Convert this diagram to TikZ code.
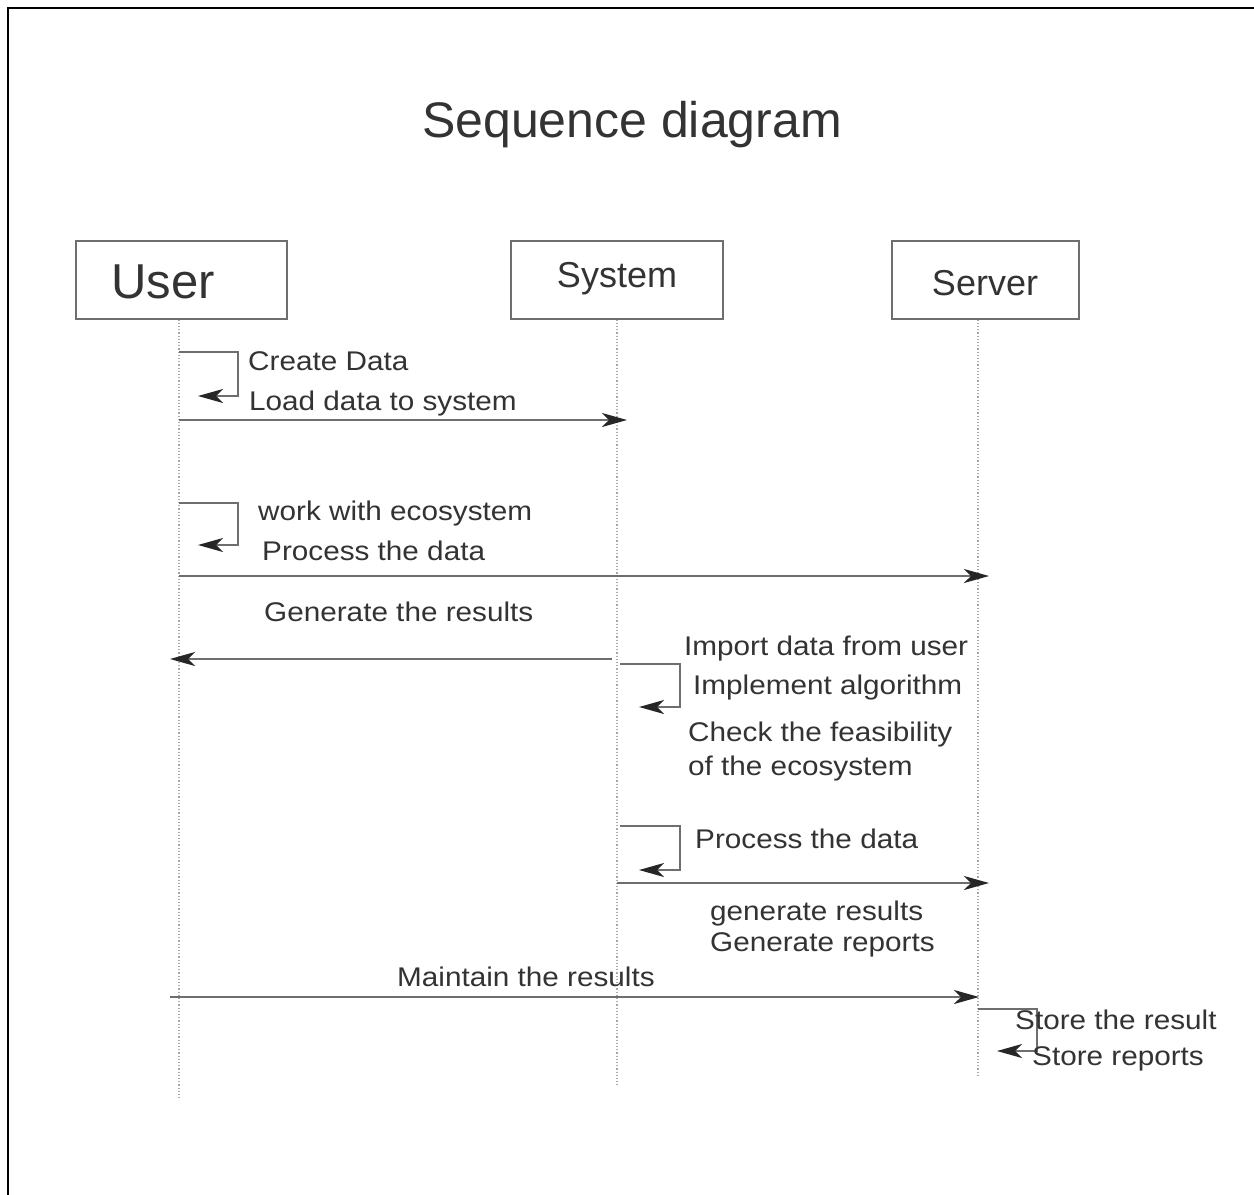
\documentclass[tikz,border=0pt]{standalone}
\usepackage{fontspec}
\setmainfont{Liberation Sans}
\newfontfamily\msgfont[FakeStretch=1.1]{Liberation Sans}
\usetikzlibrary{arrows.meta}
\definecolor{ink}{HTML}{333333}
\definecolor{wire}{HTML}{6E6E6E}
\definecolor{tipc}{HTML}{262626}
\begin{document}
\begin{tikzpicture}[x=1pt,y=-1pt,
  actorbox/.style={draw=wire, line width=1.3pt, minimum height=78pt, inner sep=0pt},
  actortext/.style={inner sep=0pt, text=ink, font=\fontsize{36}{40}\selectfont},
  lifeline/.style={draw=wire!60, dotted, line width=1.2pt},
  msg/.style={draw=wire, line width=1.5pt,
    -{Stealth[length=25pt,width=14pt,inset=7pt,color=tipc]}},
  lbl/.style={anchor=west, inner sep=0pt, text=ink,
    font=\msgfont\fontsize{27}{31}\selectfont}]
\useasboundingbox (0,0) rectangle (1254,1195);
\fill[white] (0,0) rectangle (1254,1195);
% frame
\draw[line width=2.4pt] (8,1195) -- (8,8) -- (1254,8);

% title
\node[inner sep=0pt, text=ink, font=\fontsize{50}{56}\selectfont] (title) at (632,125) {Sequence diagram};

% participants
\node[actorbox, minimum width=211pt] (user) at (181.5,280) {};
\node[actortext, font=\fontsize{49}{54}\selectfont] (usertxt) at (163,282) {User};
\node[actorbox, minimum width=212pt] (system) at (617,280) {};
\node[actortext] (systxt) at (617,279) {System};
\node[actorbox, minimum width=187pt] (server) at (985.5,280) {};
\node[actortext] (srvtxt) at (985,283) {Server};

% lifelines
\coordinate (uend) at (179,1100);
\coordinate (send) at (617,1085);
\coordinate (rend) at (978,1078);
\draw[lifeline] (user.south -| uend) -- (uend);
\draw[lifeline] (system.south -| send) -- (send);
\draw[lifeline] (server.south -| rend) -- (rend);

% User: create data (self call)
\coordinate (m1a) at (179,352);
\coordinate (m1b) at (198,396);
\draw[msg] (m1a) -- ++(59,0) |- (m1b);
\node[lbl] (t1) at (248,361) {Create Data};
\node[lbl] (t2) at (249,404) {Load data to system};
% User -> System
\coordinate (m2a) at (179,420);
\coordinate (m2b) at (627,420);
\draw[msg] (m2a) -- (m2b);

% User: work with ecosystem (self call)
\coordinate (m3a) at (179,503);
\coordinate (m3b) at (198,545);
\draw[msg] (m3a) -- ++(59,0) |- (m3b);
\node[lbl] (t3) at (258,514) {work with ecosystem};
\node[lbl] (t4) at (262,551) {Process the data};
% User -> Server
\coordinate (m4a) at (179,576);
\coordinate (m4b) at (989,576);
\draw[msg] (m4a) -- (m4b);

% System -> User
\node[lbl] (t5) at (264,612) {Generate the results};
\coordinate (m5a) at (612,659);
\coordinate (m5b) at (170,659);
\draw[msg] (m5a) -- (m5b);

% System: import and check (self call)
\coordinate (m6a) at (620,664);
\coordinate (m6b) at (639,707);
\draw[msg] (m6a) -- ++(60,0) |- (m6b);
\node[lbl] (t6) at (684,649) {Import data from user};
\node[lbl] (t7) at (693,688) {Implement algorithm};
\node[lbl] (t8) at (688,735) {Check the feasibility};
\node[lbl] (t9) at (688,769) {of the ecosystem};

% System: process (self call)
\coordinate (m7a) at (620,826);
\coordinate (m7b) at (639,870);
\draw[msg] (m7a) -- ++(60,0) |- (m7b);
\node[lbl] (t10) at (695,839) {Process the data};
% System -> Server
\coordinate (m8a) at (617,883);
\coordinate (m8b) at (989,883);
\draw[msg] (m8a) -- (m8b);
\node[lbl] (t11) at (710,914) {generate results};
\node[lbl] (t12) at (710,945) {Generate reports};

% User -> Server
\node[lbl] (t13) at (397,977) {Maintain the results};
\coordinate (m9a) at (170,997);
\coordinate (m9b) at (979,997);
\draw[msg] (m9a) -- (m9b);

% Server: store (self call)
\coordinate (m10a) at (978,1009);
\coordinate (m10b) at (997,1051);
\draw[msg] (m10a) -- ++(59,0) |- (m10b);
\node[lbl] (t14) at (1015,1020) {Store the result};
\node[lbl] (t15) at (1032,1059) {Store reports};
\end{tikzpicture}
\end{document}
